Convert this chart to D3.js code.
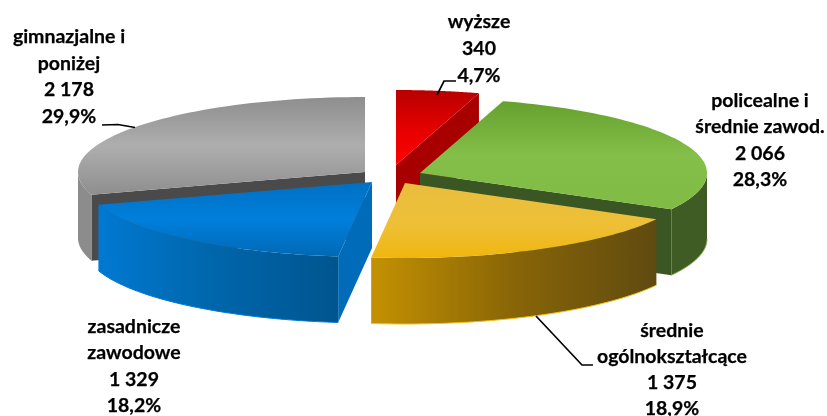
<!DOCTYPE html>
<html><head><meta charset="utf-8">
<script src="https://cdn.jsdelivr.net/npm/d3@7/dist/d3.min.js"></script>
<style>html,body{margin:0;padding:0;background:#fff}svg{display:block;filter:blur(0.35px)}
text{font-family:Lato,"Open Sans",sans-serif;font-weight:700;font-size:19.5px;fill:#000;stroke:#000;stroke-width:.25px}</style>
</head><body><svg id="c" width="827" height="416"></svg>
<script>
const categories = ["wyższe","policealne i średnie zawod.","średnie ogólnokształcące","zasadnicze zawodowe","gimnazjalne i poniżej"];
const values = [340,2066,1375,1329,2178];
const valueLabels = ["340","2 066","1 375","1 329","2 178"];
const percentLabels = ["4,7%","28,3%","18,9%","18,2%","29,9%"];
const labelLines = [["wyższe","340","4,7%"],["policealne i","średnie zawod.","2 066","28,3%"],["średnie","ogólnokształcące","1 375","18,9%"],["zasadnicze","zawodowe","1 329","18,2%"],["gimnazjalne i","poniżej","2 178","29,9%"]];

// layout
const RX=287, RY=75, DEPTH=66;
const apex=[[396,165],[420,173],[405,183],[372,182],[365,172]];
const labelPos=[[479,28],[760,107],[672,337],[134,333],[69,43]];
const lineH=[27,26.4,26,26.3,26.7];
const topGrad=[
 [["0","#b80000"],["0.55","#e80000"],["1","#ff0000"]],
 [["0","#66a02e"],["0.5","#84bf49"],["1","#80bb45"]],
 [["0","#e9bd3d"],["0.55","#eec038"],["1","#f0b60e"]],
 [["0","#0070c2"],["0.5","#007fdc"],["1","#0069b5"]],
 [["0","#8e8e8e"],["0.5","#aeaeae"],["1","#8e8e8e"]]];
const wallGrad=[
 [["0","#a00000"],["1","#a00000"]],
 [["0","#3e5c24"],["1","#3e5c24"]],
 [["0","#c49102"],["0.5","#886507"],["1","#5f4a10"]],
 [["0","#0079d2"],["0.45","#0067ad"],["1","#00558f"]],
 [["0","#8c8c8c"],["1","#8c8c8c"]]];
const cutColor=["#a80000","#3a5622",null,"#006bb8","#4a4a4a"];
const edgeColor=[null,"#7fb04a","#f2c21c","#0079d2",null];
const drawOrder=[0,4,1,2,3];

const svg=d3.select("#c");
const defs=svg.append("defs");
const arcs=d3.pie().sort(null).startAngle(0).endAngle(2*Math.PI)(values);
const sx=d3.scaleLinear().domain([-1,1]).range([-RX,RX]);
const sy=d3.scaleLinear().domain([-1,1]).range([-RY,RY]);
const P=(i,t,dz=0)=>[apex[i][0]+sx(Math.sin(t)),apex[i][1]+sy(-Math.cos(t))+dz];
const line=d3.line();
const arcPts=(i,a,b,dz=0)=>d3.range(0,61).map(k=>P(i,a+(b-a)*k/60,dz));
function grad(id,stops,horizontal,x1,x2,y1,y2){
  const g=defs.append("linearGradient").attr("id",id).attr("gradientUnits","userSpaceOnUse")
    .attr("x1",horizontal?x1:0).attr("x2",horizontal?x2:0).attr("y1",horizontal?0:y1).attr("y2",horizontal?0:y2);
  stops.forEach(s=>g.append("stop").attr("offset",s[0]).attr("stop-color",s[1]));
}
drawOrder.forEach(i=>{
  const d=arcs[i], a=d.startAngle, b=d.endAngle, G=svg.append("g");
  const rim=arcPts(i,a,b), ys=rim.concat([apex[i]]).map(p=>p[1]);
  grad("t"+i,topGrad[i],false,0,0,d3.min(ys),d3.max(ys));
  // radial cut wall: the side that faces the viewer
  const cutAngle = (i===0||i===1) ? b : (i===3||i===4) ? a : null;
  if(cutAngle!==null){
    const r=P(i,cutAngle);
    G.append("path").attr("fill",cutColor[i])
      .attr("d",line([apex[i],r,[r[0],r[1]+DEPTH],[apex[i][0],apex[i][1]+DEPTH]])+"Z");
  }
  // outer wall: only the part facing the viewer (from 90° to 270°)
  const wa=Math.max(a,Math.PI/2), wb=Math.min(b,3*Math.PI/2);
  if(wb>wa){
    const up=arcPts(i,wa,wb), dn=arcPts(i,wa,wb,DEPTH);
    grad("w"+i,wallGrad[i],true,up[60][0],up[0][0]);
    G.append("path").attr("fill","url(#w"+i+")").attr("d",line(up.concat(dn.slice().reverse()))+"Z");
    if(edgeColor[i]) G.append("path").attr("fill","none").attr("stroke",edgeColor[i]).attr("stroke-width",1).attr("d",line(dn));
  }
  G.append("path").attr("fill","url(#t"+i+")").attr("d",line([apex[i]].concat(rim))+"Z");
});
// leader lines
const leaders=[
 [[437,95],[444,81],[456,81]],
 [[536,316],[582,365],[593,365]],
 [[102,125],[118,124.5],[135,127.5]]];
leaders.forEach(l=>svg.append("path").attr("fill","none").attr("stroke","#000").attr("stroke-width",1.7).attr("d",line(l)));
// labels
labelLines.forEach((ls,i)=>{
  const t=svg.append("text").attr("text-anchor","middle");
  ls.forEach((s,k)=>t.append("tspan").attr("x",labelPos[i][0]).attr("y",labelPos[i][1]+k*lineH[i]).text(s));
});
</script></body></html>
